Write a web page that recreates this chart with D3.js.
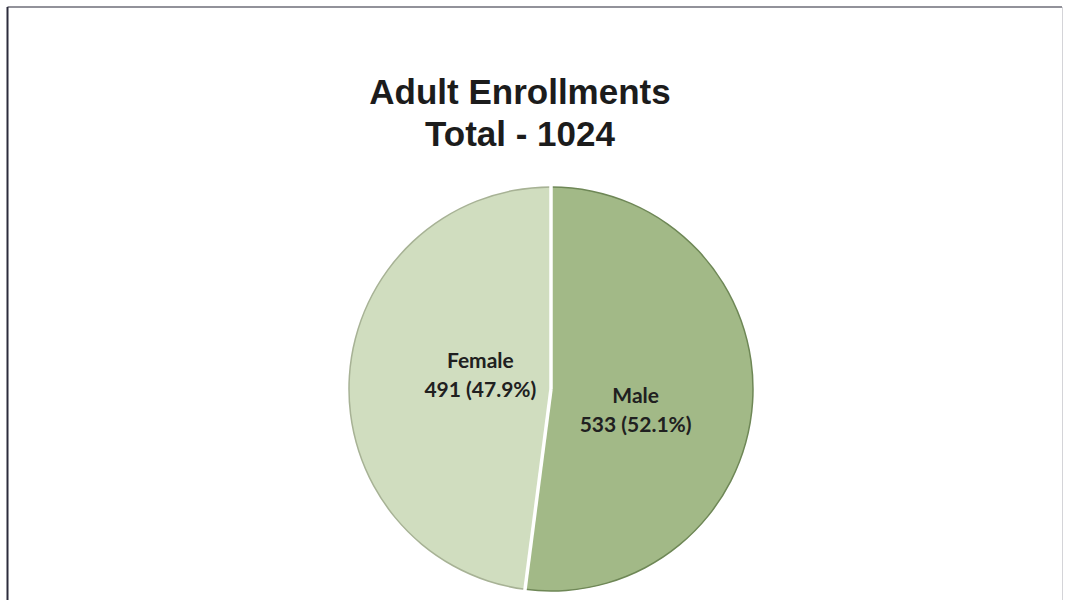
<!DOCTYPE html>
<html>
<head>
<meta charset="utf-8">
<script src="https://cdn.jsdelivr.net/npm/d3@7"></script>
<style>
  html, body { margin: 0; padding: 0; background: #ffffff; }
  svg { display: block; }
</style>
</head>
<body>
<svg id="chart" width="1065" height="600"></svg>
<script>
// Enrollment counts by gender
const categories = ["Male", "Female"];
const counts = [533, 491];
const sliceColors = ["#a2b987", "#d0ddbf"];
const edgeColors = ["#6e8756", "#a7b295"];
const titleLines = ["Adult Enrollments", "Total - 1024"];

const W = 1065, H = 600;
const svg = d3.select("#chart");

// Frame around the chart area
svg.append("line").attr("x1", 7.5).attr("y1", 7).attr("x2", 1062).attr("y2", 7)
  .attr("stroke", "#6e6e78").attr("stroke-width", 1.5);
svg.append("line").attr("x1", 7.5).attr("y1", 7).attr("x2", 7.5).attr("y2", H)
  .attr("stroke", "#2c2c3c").attr("stroke-width", 2);
svg.append("line").attr("x1", 1062.5).attr("y1", 7).attr("x2", 1062.5).attr("y2", H)
  .attr("stroke", "#d4d4d8").attr("stroke-width", 1);

// Title
const title = svg.append("text")
  .attr("x", 520).attr("y", 104)
  .attr("text-anchor", "middle")
  .attr("font-family", "'Liberation Sans', Arial, sans-serif")
  .attr("font-weight", "bold")
  .attr("font-size", 35)
  .attr("fill", "#1c1c1c");
title.selectAll("tspan").data(titleLines).join("tspan")
  .attr("x", 520)
  .attr("dy", (d, i) => i === 0 ? 0 : 42)
  .text(d => d);

// Pie
const cx = 551, cy = 389, radius = 202;
const total = d3.sum(counts);
const data = categories.map((c, i) => ({ name: c, value: counts[i], color: sliceColors[i], edge: edgeColors[i] }));

const pie = d3.pie().value(d => d.value).sort(null);
const arcs = pie(data);
const arc = d3.arc().innerRadius(0).outerRadius(radius);
const rim = d3.arc().innerRadius(radius - 0.75).outerRadius(radius + 0.75);

const g = svg.append("g").attr("transform", `translate(${cx},${cy})`);

g.selectAll("path.slice").data(arcs).join("path")
  .attr("class", "slice")
  .attr("d", arc)
  .attr("fill", d => d.data.color);

// Darker rim along each slice's outer edge
g.selectAll("path.rim").data(arcs).join("path")
  .attr("class", "rim")
  .attr("d", rim)
  .attr("fill", d => d.data.edge);

// White separators between slices
g.selectAll("line.sep").data(arcs).join("line")
  .attr("class", "sep")
  .attr("x1", 0).attr("y1", 0)
  .attr("x2", d => Math.sin(d.startAngle) * (radius + 2))
  .attr("y2", d => -Math.cos(d.startAngle) * (radius + 2))
  .attr("stroke", "#ffffff")
  .attr("stroke-width", 3.5);

// Data labels: name, count and share
const labelArc = d3.arc().innerRadius(radius * 0.8).outerRadius(radius * 0.8);
const labelShift = { Male: [4, 9], Female: [10, -16] };
const fmtPct = d3.format(".1%");

const labels = g.selectAll("text.lbl").data(arcs).join("text")
  .attr("class", "lbl")
  .attr("text-anchor", "middle")
  .attr("font-family", "Lato, 'Open Sans', sans-serif")
  .attr("font-weight", "bold")
  .attr("font-size", 21)
  .attr("fill", "#202020")
  .attr("transform", d => {
    const [x, y] = labelArc.centroid(d);
    const s = labelShift[d.data.name];
    return `translate(${x * 0.5 + s[0]},${y * 0.5 + s[1]})`;
  });

labels.append("tspan").attr("x", 0).attr("dy", 0).text(d => d.data.name);
labels.append("tspan").attr("x", 0).attr("dy", 29)
  .text(d => `${d.data.value} (${fmtPct(d.data.value / total)})`);
</script>
</body>
</html>
